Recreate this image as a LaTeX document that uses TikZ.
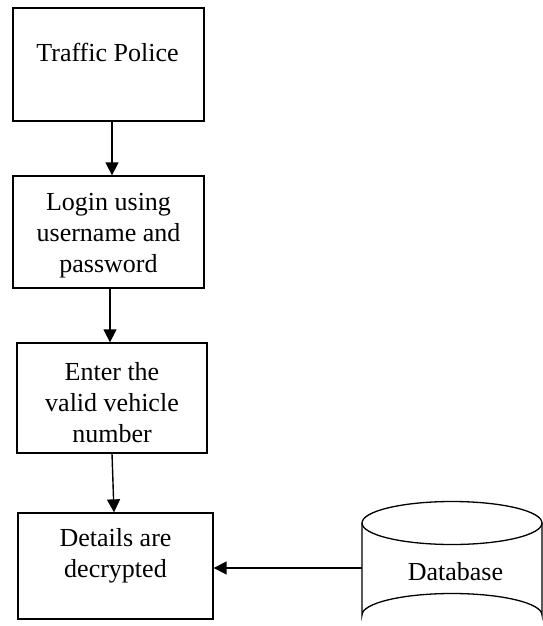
\documentclass[tikz,border=0pt]{standalone}
\usepackage{fontspec}
\setmainfont{Liberation Serif}
\usetikzlibrary{arrows.meta}
\begin{document}
\begin{tikzpicture}[x=1pt,y=-1pt,
  box/.style={draw, line width=1.3pt, rectangle, inner sep=0pt},
  lbl/.style={align=center, inner sep=0pt, font=\fontsize{26}{31}\selectfont},
  arr/.style={line width=1.4pt, -{Triangle[width=13pt,length=13pt]}}]
  \useasboundingbox (0,0) rectangle (543,626);
  \clip (0,0) rectangle (543,626);

  % process boxes
  \node[box, minimum width=191pt, minimum height=113pt] (b1) at (108.5,64.5) {};
  \node[lbl] (l1) at (107.5,52) {Traffic Police};

  \node[box, minimum width=191pt, minimum height=112pt] (b2) at (108.5,232) {};
  \node[lbl] (l2) at (108.5,236) {Login using\\username and\\password};

  \node[box, minimum width=190pt, minimum height=110pt] (b3) at (112,398) {};
  \node[lbl] (l3) at (112,403) {Enter the\\valid vehicle\\number};

  \node[box, minimum width=195pt, minimum height=106pt] (b4) at (115.5,566) {};
  \node[lbl] (l4) at (115.5,556) {Details are\\decrypted};

  % database cylinder
  \draw[line width=1.3pt] (362,523) -- (362,615)
    arc[start angle=180, end angle=360, x radius=90, y radius=21.5]
    -- (542,523);
  \draw[line width=1.3pt] (452,523) ellipse[x radius=90, y radius=21.5];
  \coordinate (dbw) at (362,568);
  \node[lbl] (db) at (455.5,572) {Database};

  % connectors
  \draw[arr] ([xshift=3.5pt]b1.south) -- ([xshift=3.5pt]b2.north);
  \draw[arr] ([xshift=1.5pt]b2.south) -- ([xshift=-2pt]b3.north);
  \draw[arr] (b3.south) -- ([xshift=-1.5pt]b4.north);
  \draw[arr] (dbw) -- (b4.east |- dbw);
\end{tikzpicture}
\end{document}
